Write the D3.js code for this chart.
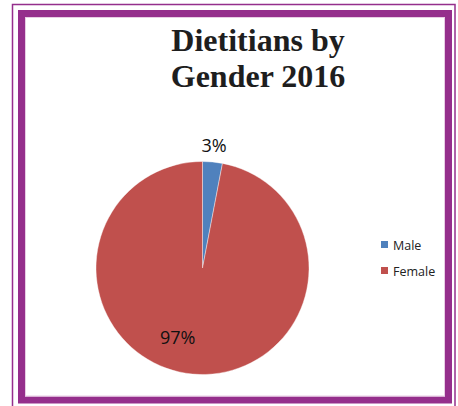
<!DOCTYPE html>
<html>
<head>
<meta charset="utf-8">
<script src="https://cdn.jsdelivr.net/npm/d3@7"></script>
<style>
  html, body { margin: 0; padding: 0; background: #fff; }
  svg { display: block; }
</style>
</head>
<body>
<svg id="chart" width="458" height="406"></svg>
<script>
// Dietitians by gender, 2016 (percent of total)
const categories = ["Male", "Female"];
const values = [3, 97];
const colors = ["#4F81BD", "#C0504D"];
const titleLines = ["Dietitians by", "Gender 2016"];

const svg = d3.select("#chart");
const frameColor = "#952F8C";

// Double frame: thin outer rule and heavy inner rule
svg.append("rect")
  .attr("x", 12.5).attr("y", 4.5)
  .attr("width", 442.5).attr("height", 420)
  .attr("fill", "none").attr("stroke", frameColor).attr("stroke-width", 1.5);
svg.append("rect")
  .attr("x", 21.5).attr("y", 13.5)
  .attr("width", 427).attr("height", 386.5)
  .attr("fill", "none").attr("stroke", frameColor).attr("stroke-width", 7);
svg.append("rect")
  .attr("x", 25.5).attr("y", 17.5)
  .attr("width", 419).attr("height", 378.5)
  .attr("fill", "none").attr("stroke", "#e8cde4").attr("stroke-width", 1);

// Title
svg.append("g")
  .selectAll("text")
  .data(titleLines)
  .join("text")
  .attr("x", 258)
  .attr("y", (d, i) => 51 + i * 36)
  .attr("text-anchor", "middle")
  .attr("font-family", "'Liberation Serif', 'Times New Roman', serif")
  .attr("font-weight", "bold")
  .attr("font-size", 32)
  .attr("fill", "#1e1e1e")
  .text(d => d);

// Pie
const cx = 202.5, cy = 268, r = 106.5;
const pie = d3.pie().sort(null).value(d => d)(values);
const arc = d3.arc().innerRadius(0).outerRadius(r);
const g = svg.append("g").attr("transform", `translate(${cx},${cy})`);
g.selectAll("path")
  .data(pie)
  .join("path")
  .attr("d", arc)
  .attr("fill", (d, i) => colors[i])
  .attr("stroke", "#fff")
  .attr("stroke-width", 0.4);

// Percentage labels: the small slice is labelled outside, the large one inside
const labelPlace = [
  { radius: r + 17, turn: 0 },
  { radius: r * 0.69, turn: 0.25 }
];
g.selectAll("text.pct")
  .data(pie)
  .join("text")
  .attr("class", "pct")
  .attr("transform", (d, i) => {
    const p = labelPlace[i];
    const a = (d.startAngle + d.endAngle) / 2 + p.turn;
    return `translate(${p.radius * Math.sin(a)},${-p.radius * Math.cos(a)})`;
  })
  .attr("text-anchor", "middle")
  .attr("dominant-baseline", "central")
  .attr("font-family", "'Open Sans', 'Liberation Sans', sans-serif")
  .attr("font-size", 18)
  .attr("fill", "#111")
  .text(d => d.data + "%");

// Legend
const legend = svg.append("g").attr("transform", "translate(381,241)");
const item = legend.selectAll("g")
  .data(categories)
  .join("g")
  .attr("transform", (d, i) => `translate(0,${i * 26})`);
item.append("rect")
  .attr("width", 7).attr("height", 7)
  .attr("fill", (d, i) => colors[i]);
item.append("text")
  .attr("x", 12).attr("y", 4)
  .attr("dominant-baseline", "central")
  .attr("font-family", "'Open Sans', 'Liberation Sans', sans-serif")
  .attr("font-size", 12.5)
  .attr("fill", "#222")
  .text(d => d);
</script>
</body>
</html>
